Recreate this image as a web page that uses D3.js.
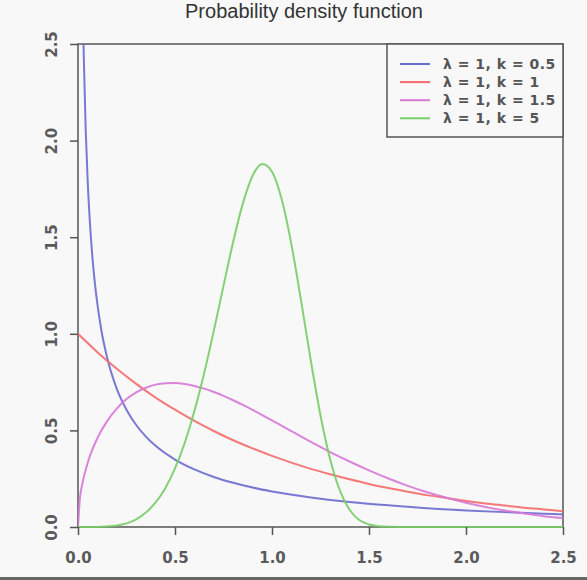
<!DOCTYPE html>
<html><head><meta charset="utf-8">
<script src="https://cdn.jsdelivr.net/npm/d3@7"></script>
<style>body{margin:0;background:#f8f8f8;}svg{display:block;}</style>
</head><body>
<svg id="c" width="587" height="580"></svg>
<script>
// Values
const xTicks = [0.0, 0.5, 1.0, 1.5, 2.0, 2.5];
const yTicks = [0.0, 0.5, 1.0, 1.5, 2.0, 2.5];
const seriesNames = ["λ = 1, k = 0.5", "λ = 1, k = 1", "λ = 1, k = 1.5", "λ = 1, k = 5"];
const seriesColors = ["#6a6acf", "#f46a6a", "#d678d6", "#77cc66"];

const xK05 = [0.005,0.01,0.02,0.03,0.04,0.05,0.06,0.08,0.1,0.12,0.15,0.2,0.25,0.3,0.35,0.4,0.5,0.6,0.7,0.8,0.9,1.0,1.2,1.4,1.6,1.8,2.0,2.2,2.4,2.5];
const yK05 = [6.588,4.524,3.069,2.428,2.047,1.788,1.598,1.332,1.153,1.021,0.877,0.715,0.607,0.528,0.468,0.420,0.349,0.298,0.259,0.229,0.204,0.184,0.153,0.129,0.112,0.097,0.086,0.077,0.069,0.065];

const xK1 = [0,0.1,0.2,0.3,0.4,0.5,0.6,0.7,0.8,0.9,1.0,1.1,1.2,1.3,1.4,1.5,1.6,1.7,1.8,1.9,2.0,2.1,2.2,2.3,2.4,2.5];
const yK1 = [1.000,0.905,0.819,0.741,0.670,0.607,0.549,0.497,0.449,0.407,0.368,0.333,0.301,0.273,0.247,0.223,0.202,0.183,0.165,0.150,0.135,0.122,0.111,0.100,0.091,0.082];

const xK15 = [0,0.01,0.02,0.05,0.1,0.15,0.2,0.25,0.3,0.35,0.4,0.45,0.5,0.55,0.6,0.65,0.7,0.75,0.8,0.85,0.9,0.95,1.0,1.1,1.2,1.3,1.4,1.5,1.6,1.7,1.8,1.9,2.0,2.1,2.2,2.3,2.4,2.5];
const yK15 = [0,0.150,0.212,0.332,0.460,0.548,0.613,0.662,0.697,0.721,0.737,0.744,0.745,0.740,0.730,0.716,0.699,0.679,0.656,0.632,0.606,0.579,0.552,0.496,0.441,0.388,0.339,0.293,0.251,0.213,0.180,0.151,0.126,0.104,0.085,0.070,0.056,0.046];

const xK5 = [0,0.1,0.2,0.3,0.35,0.4,0.45,0.5,0.55,0.6,0.65,0.7,0.75,0.8,0.85,0.9,0.95,1.0,1.05,1.1,1.15,1.2,1.25,1.3,1.35,1.4,1.45,1.5,1.55,1.6,1.7,1.8,2.0,2.2,2.5];
const yK5 = [0,0.0005,0.008,0.040,0.075,0.127,0.201,0.303,0.435,0.600,0.795,1.015,1.248,1.476,1.675,1.818,1.879,1.839,1.696,1.463,1.170,0.861,0.577,0.349,0.188,0.089,0.036,0.013,0.004,0.001,0,0,0,0,0];

const seriesX = [xK05, xK1, xK15, xK5];
const seriesY = [yK05, yK1, yK15, yK5];

const svg = d3.select("#c");
svg.append("rect").attr("width",587).attr("height",580).attr("fill","#f8f8f8");

const L = 78, R = 563, T = 44, B = 527;
const x = d3.scaleLinear().domain([0, 2.5]).range([L, R]);
const y = d3.scaleLinear().domain([0, 2.5]).range([B, T]);

svg.append("defs").append("clipPath").attr("id","clip")
  .append("rect").attr("x",L).attr("y",T).attr("width",R-L).attr("height",B-T+2);

// box
svg.append("rect").attr("x",L).attr("y",T).attr("width",R-L).attr("height",B-T)
  .attr("fill","none").attr("stroke","#555").attr("stroke-width",1.5);

const line = d3.line().curve(d3.curveMonotoneX);
const g = svg.append("g").attr("clip-path","url(#clip)");
seriesX.forEach((xs, i) => {
  const pts = xs.map((v, j) => [x(v), y(seriesY[i][j])]);
  g.append("path").attr("d", line(pts)).attr("fill","none")
    .attr("stroke", seriesColors[i]).attr("stroke-width", 2).attr("stroke-opacity",0.9);
});

const font = "DejaVu Sans, sans-serif";
// x axis
const xa = svg.append("g").attr("transform",`translate(0,${B})`)
  .call(d3.axisBottom(x).tickValues(xTicks).tickFormat(d3.format(".1f")).tickSize(8).tickSizeOuter(0));
xa.select(".domain").remove();
xa.selectAll("line").attr("stroke","#555").attr("stroke-width",1.5);
xa.selectAll("text").style("font-family",font).style("font-size","15px").style("font-weight","bold")
  .attr("fill","#5a5a5a").attr("y",31).attr("dy","0.35em");

// y axis
const ya = svg.append("g").attr("transform",`translate(${L},0)`)
  .call(d3.axisLeft(y).tickValues(yTicks).tickFormat(d3.format(".1f")).tickSize(8).tickSizeOuter(0));
ya.select(".domain").remove();
ya.selectAll("line").attr("stroke","#555").attr("stroke-width",1.5);
ya.selectAll("text").style("font-family",font).style("font-size","15px").style("font-weight","bold")
  .attr("fill","#5a5a5a").attr("text-anchor","middle").attr("x",0).attr("dy","0.35em")
  .attr("transform","translate(-26,0) rotate(-90)");

// title
svg.append("text").attr("x",304).attr("y",18).attr("text-anchor","middle")
  .attr("font-family","Liberation Sans, Arial, sans-serif").attr("font-size",20).attr("fill","#333")
  .text("Probability density function");

// legend
const lg = svg.append("g");
lg.append("rect").attr("x",387).attr("y",T).attr("width",R-387).attr("height",93)
  .attr("fill","#f8f8f8").attr("stroke","#555").attr("stroke-width",1.5);
seriesNames.forEach((n, i) => {
  const yy = 64 + i*18.1;
  lg.append("line").attr("x1",400).attr("x2",430).attr("y1",yy).attr("y2",yy)
    .attr("stroke",seriesColors[i]).attr("stroke-width",2);
  lg.append("text").attr("x",443).attr("y",yy).attr("dy","0.35em")
    .attr("font-family",font).attr("font-size",14).attr("font-weight","bold")
    .attr("letter-spacing","0.5px").attr("fill","#555").text(n);
});

// bottom frame line
svg.append("rect").attr("x",0).attr("y",577).attr("width",587).attr("height",3).attr("fill","#666");
</script>
</body></html>
